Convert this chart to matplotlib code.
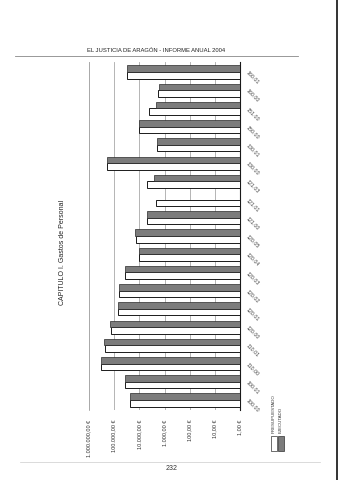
import matplotlib.pyplot as plt
import matplotlib.patches as patches
import numpy as np

plt.rcParams["font.family"] = ["Liberation Sans", "DejaVu Sans"]

# categories in reading order (bottom of the page -> top of the page)
categories = [
    "100.00", "100.01", "110.00", "110.01", "120.00", "120.01", "120.02",
    "120.03", "120.04", "120.05", "121.00", "121.01", "121.03", "130.00",
    "130.01", "150.00", "151.00", "160.00", "160.01",
]
presupuestado = [
    23000, 36000, 330000, 230000, 132000, 69000, 63000, 36000, 10000, 13200,
    4800, 2100, 4800, 190000, 1900, 10000, 4000, 1750, 30500,
]
ejecutado = [
    23000, 36000, 330000, 250000, 145000, 69000, 63000, 36000, 10000, 14500,
    4800, 0, 2500, 190000, 1900, 10000, 2100, 1600, 30000,
]
value_ticks = [1, 10, 100, 1e3, 1e4, 1e5, 1e6]
value_labels = ["1,00 €", "10,00 €", "100,00 €", "1.000,00 €", "10.000,00 €",
                "100.000,00 €", "1.000.000,00 €"]
series_names = ["PRESUPUESTADO", "EJECUTADO"]

W, H = 338, 480


def fx(px):
    return px / W


def fy(py):
    return 1 - py / H


fig = plt.figure(figsize=(W / 100, H / 100), dpi=100)

# chart is printed rotated on the page: bars grow to the left on a log scale
ax = fig.add_axes([fx(89), fy(410), fx(240) - fx(89), fy(62) - fy(410)])
pos = np.arange(len(categories))
bh = 0.36
pres = np.maximum(np.array(presupuestado, dtype=float), 1)
ejec = np.maximum(np.array(ejecutado, dtype=float), 1)
ax.barh(pos - bh / 2, pres - 1, left=1, height=bh, color="white",
        edgecolor="#1a1a1a", linewidth=0.7, zorder=3)
ax.barh(pos + bh / 2, ejec - 1, left=1, height=bh, color="#7c7c7c",
        edgecolor="#2a2a2a", linewidth=0.5, zorder=3)

ax.set_xscale("log")
ax.set_xlim(1e6, 1)
ax.set_ylim(-0.55, len(categories) - 0.45)
ax.minorticks_off()
ax.set_xticks(value_ticks)
ax.set_xticklabels(value_labels, rotation=90, fontsize=4.0, color="#333333")
ax.tick_params(axis="x", length=0, pad=7)
ax.grid(axis="x", color="#a8a8a8", linewidth=0.6, zorder=0)

ax.yaxis.tick_right()
ax.set_yticks(pos)
ax.set_yticklabels(categories, rotation=-45, fontsize=3.8, color="#444444",
                   ha="left", va="center", rotation_mode="anchor")
ax.tick_params(axis="y", length=0, pad=5)

for side in ["top", "bottom"]:
    ax.spines[side].set_visible(False)
ax.spines["left"].set_color("#a8a8a8")
ax.spines["left"].set_linewidth(0.6)
ax.spines["right"].set_color("#1a1a1a")
ax.spines["right"].set_linewidth(0.8)

# legend, rotated like the rest of the chart
for i, (name, col) in enumerate(zip(series_names, ["white", "#7c7c7c"])):
    x0 = 271 + i * 7
    fig.patches.append(patches.Rectangle((fx(x0), fy(451)), fx(6), 15 / H,
                                         transform=fig.transFigure,
                                         facecolor=col, edgecolor="#333333",
                                         linewidth=0.5))
    fig.text(fx(x0 + 3), fy(433), name, rotation=90, fontsize=3.2,
             ha="center", va="bottom", color="#333333")

# page furniture
fig.text(fx(156), fy(50), "EL JUSTICIA DE ARAGÓN - INFORME ANUAL 2004",
         fontsize=4.2, ha="center", va="center", color="#222222")
fig.add_artist(plt.Line2D([fx(15), fx(298)], [fy(56), fy(56)],
                          color="#888888", linewidth=0.6))
fig.text(fx(62), fy(252), "CAPITULO I. Gastos de Personal", rotation=90,
         fontsize=5, ha="center", va="center", color="#222222")
fig.add_artist(plt.Line2D([fx(20), fx(320)], [fy(462), fy(462)],
                          color="#cccccc", linewidth=0.5))
fig.text(fx(172), fy(468), "232", fontsize=5, ha="center", va="center",
         color="#333333")
fig.add_artist(plt.Line2D([fx(336.5), fx(336.5)], [0, 1],
                          color="#111111", linewidth=1.2))

fig.savefig("out.png", dpi=100, facecolor="white")
